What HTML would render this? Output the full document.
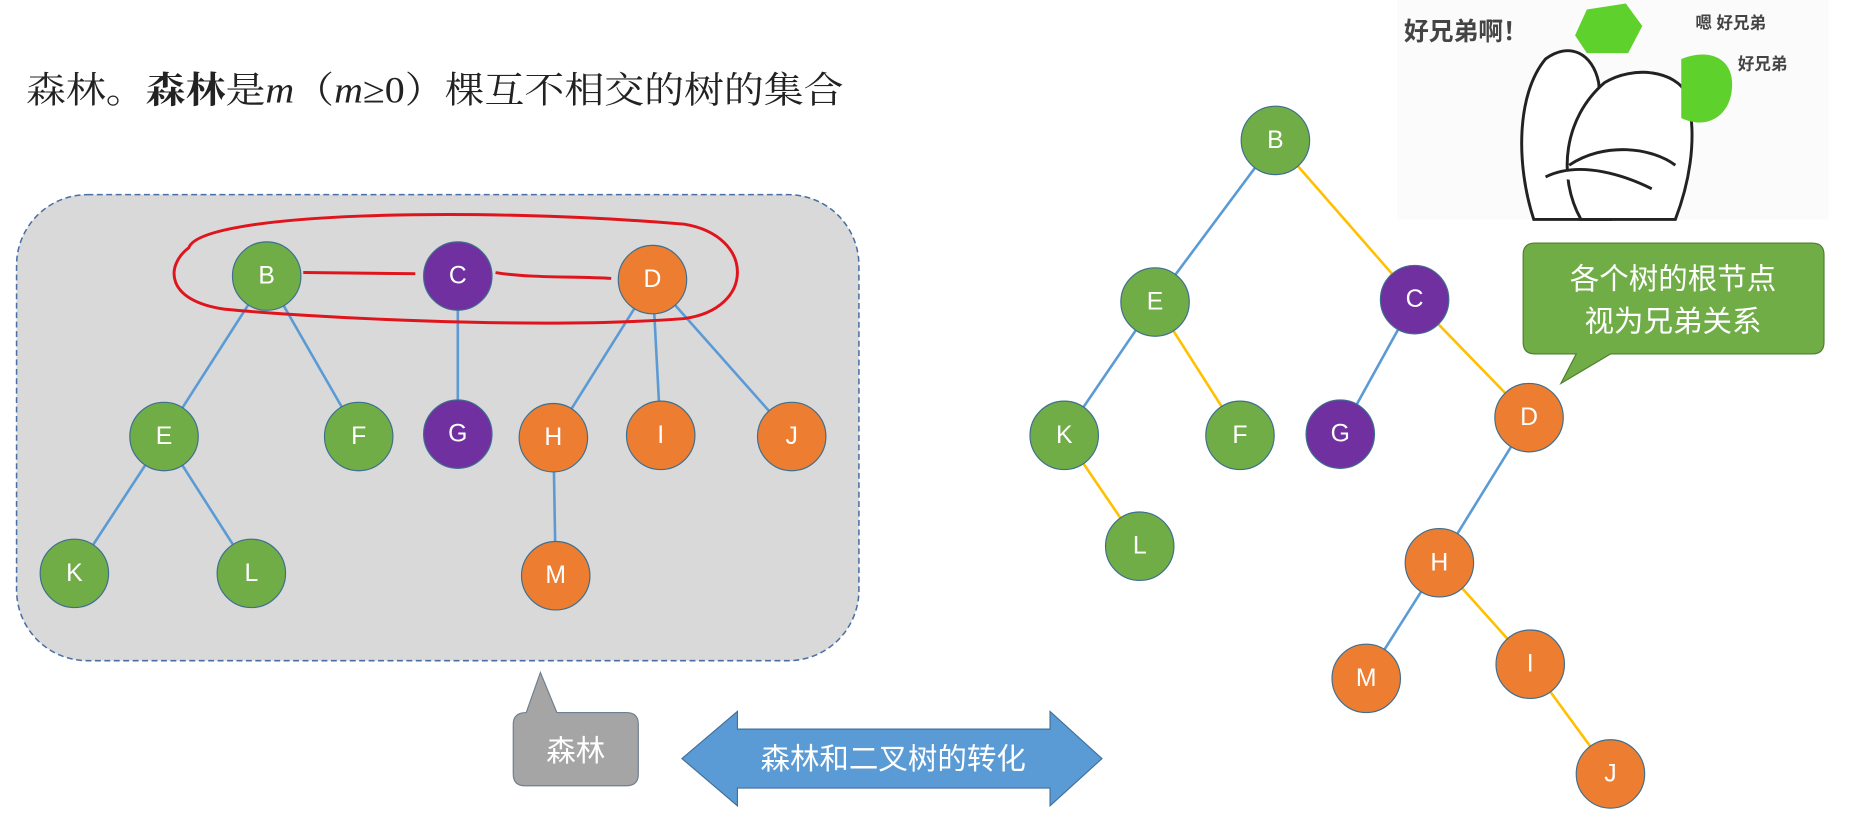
<!DOCTYPE html>
<html><head><meta charset="utf-8"><style>
html,body{margin:0;padding:0;background:#fff;width:1850px;height:817px;overflow:hidden}
svg{display:block}
.n text{font-family:"Liberation Sans",sans-serif;font-size:21px;fill:#fff;text-anchor:middle;dominant-baseline:central}
</style></head><body>
<svg width="1850" height="817" viewBox="0 0 1568 692.5" xmlns="http://www.w3.org/2000/svg">
<text x="22" y="87" font-family="'Liberation Serif','Noto Serif CJK SC',serif" font-size="31" fill="#222" textLength="693" lengthAdjust="spacingAndGlyphs">森林。<tspan font-weight="bold">森林</tspan>是<tspan font-style="italic">m</tspan>（<tspan font-style="italic">m</tspan>≥0）棵互不相交的树的集合</text>

<rect x="14" y="165" width="714" height="395" rx="60" fill="#d9d9d9" stroke="#4a6fa5" stroke-width="1.3" stroke-dasharray="5,3"/>

<g stroke="#5b9bd5" stroke-width="2.2">
<line x1="226" y1="234" x2="139" y2="370"/><line x1="226" y1="234" x2="304" y2="370"/>
<line x1="388" y1="234" x2="388" y2="368"/>
<line x1="553" y1="237" x2="469" y2="371"/><line x1="553" y1="237" x2="560" y2="369"/><line x1="553" y1="237" x2="671" y2="370"/>
<line x1="139" y1="370" x2="63" y2="486"/><line x1="139" y1="370" x2="213" y2="486"/>
<line x1="469" y1="371" x2="471" y2="488"/>
</g>
<path d="M160 210 C 170 180, 400 175, 580 190 C 640 200, 640 262, 580 270 C 450 280, 250 268, 190 262 C 140 255, 140 225, 160 210 Z" fill="none" stroke="#e0141c" stroke-width="2.5"/>
<path d="M257 231 L 352 232 M420 231 C 450 236, 490 234, 518 236" stroke="#e0141c" stroke-width="2.5" fill="none"/>

<g class="n" stroke="#3e6f8f" stroke-width="1">
<circle cx="226" cy="234" r="29" fill="#70ad47"/><circle cx="388" cy="234" r="29" fill="#7030a0"/><circle cx="553" cy="237" r="29" fill="#ed7d31"/>
<circle cx="139" cy="370" r="29" fill="#70ad47"/><circle cx="304" cy="370" r="29" fill="#70ad47"/><circle cx="388" cy="368" r="29" fill="#7030a0"/>
<circle cx="469" cy="371" r="29" fill="#ed7d31"/><circle cx="560" cy="369" r="29" fill="#ed7d31"/><circle cx="671" cy="370" r="29" fill="#ed7d31"/>
<circle cx="63" cy="486" r="29" fill="#70ad47"/><circle cx="213" cy="486" r="29" fill="#70ad47"/><circle cx="471" cy="488" r="29" fill="#ed7d31"/>
</g>
<g class="n">
<text x="226" y="234">B</text><text x="388" y="234">C</text><text x="553" y="237">D</text>
<text x="139" y="370">E</text><text x="304" y="370">F</text><text x="388" y="368">G</text>
<text x="469" y="371">H</text><text x="560" y="369">I</text><text x="671" y="370">J</text>
<text x="63" y="486">K</text><text x="213" y="486">L</text><text x="471" y="488">M</text>
</g>

<path d="M446 604 L458 570 L472 604 L531 604 Q541 604 541 614 L541 656 Q541 666 531 666 L445 666 Q435 666 435 656 L435 614 Q435 604 446 604 Z" fill="#a5a5a5" stroke="#6e7f8f" stroke-width="1"/>
<text x="488" y="645" font-family="'Liberation Sans','Noto Sans CJK SC',sans-serif" font-size="25" fill="#fff" text-anchor="middle">森林</text>

<path d="M578 643 L625 603 L625 618 L890 618 L890 603 L934 643 L890 683 L890 668 L625 668 L625 683 Z" fill="#5b9bd5" stroke="#41719c" stroke-width="1"/>
<text x="757" y="652" font-family="'Liberation Sans','Noto Sans CJK SC',sans-serif" font-size="25" fill="#fff" text-anchor="middle">森林和二叉树的转化</text>

<rect x="1184" y="0" width="366" height="186" fill="#fbfbfb"/>
<g fill="#fff" stroke="#222" stroke-width="2.5">
<path d="M1300 186 C 1285 140, 1285 80, 1310 50 C 1330 35, 1350 45, 1355 70 L 1365 186 Z"/>
<path d="M1340 186 C 1320 150, 1325 100, 1360 70 C 1385 55, 1420 60, 1430 80 C 1440 120, 1430 160, 1420 186 Z"/>
<path d="M1330 140 C 1360 120, 1400 125, 1420 140"/>
<path d="M1310 150 C 1340 135, 1380 150, 1400 160"/>
</g>
<path d="M1335 30 L1345 8 L1378 3 L1392 22 L1380 45 L1345 45 Z" fill="#5fd12d"/>
<path d="M1425 50 C 1450 40, 1470 50, 1468 75 C 1466 100, 1445 110, 1425 100 Z" fill="#5fd12d"/>
<text x="1190" y="34" font-family="'Liberation Sans','Noto Sans CJK SC',sans-serif" font-size="21" font-weight="bold" fill="#444">好兄弟啊！</text>
<text x="1437" y="24" font-family="'Liberation Sans','Noto Sans CJK SC',sans-serif" font-size="14" font-weight="bold" fill="#444">嗯 好兄弟</text>
<text x="1473" y="59" font-family="'Liberation Sans','Noto Sans CJK SC',sans-serif" font-size="14" font-weight="bold" fill="#444">好兄弟</text>

<g stroke-width="2.2">
<line x1="1081" y1="119" x2="979" y2="256" stroke="#5b9bd5"/><line x1="1081" y1="119" x2="1199" y2="254" stroke="#ffc000"/>
<line x1="979" y1="256" x2="902" y2="369" stroke="#5b9bd5"/><line x1="979" y1="256" x2="1051" y2="369" stroke="#ffc000"/>
<line x1="1199" y1="254" x2="1136" y2="368" stroke="#5b9bd5"/><line x1="1199" y1="254" x2="1296" y2="354" stroke="#ffc000"/>
<line x1="902" y1="369" x2="966" y2="463" stroke="#ffc000"/>
<line x1="1296" y1="354" x2="1220" y2="477" stroke="#5b9bd5"/>
<line x1="1220" y1="477" x2="1158" y2="575" stroke="#5b9bd5"/><line x1="1220" y1="477" x2="1297" y2="563" stroke="#ffc000"/>
<line x1="1297" y1="563" x2="1365" y2="656" stroke="#ffc000"/>
</g>
<g class="n" stroke="#3e6f8f" stroke-width="1">
<circle cx="1081" cy="119" r="29" fill="#70ad47"/><circle cx="979" cy="256" r="29" fill="#70ad47"/><circle cx="1199" cy="254" r="29" fill="#7030a0"/>
<circle cx="902" cy="369" r="29" fill="#70ad47"/><circle cx="1051" cy="369" r="29" fill="#70ad47"/><circle cx="1136" cy="368" r="29" fill="#7030a0"/>
<circle cx="1296" cy="354" r="29" fill="#ed7d31"/><circle cx="966" cy="463" r="29" fill="#70ad47"/><circle cx="1220" cy="477" r="29" fill="#ed7d31"/>
<circle cx="1158" cy="575" r="29" fill="#ed7d31"/><circle cx="1297" cy="563" r="29" fill="#ed7d31"/><circle cx="1365" cy="656" r="29" fill="#ed7d31"/>
</g>
<g class="n">
<text x="1081" y="119">B</text><text x="979" y="256">E</text><text x="1199" y="254">C</text>
<text x="902" y="369">K</text><text x="1051" y="369">F</text><text x="1136" y="368">G</text>
<text x="1296" y="354">D</text><text x="966" y="463">L</text><text x="1220" y="477">H</text>
<text x="1158" y="575">M</text><text x="1297" y="563">I</text><text x="1365" y="656">J</text>
</g>

<path d="M1301 206 L1536 206 Q1546 206 1546 216 L1546 290 Q1546 300 1536 300 L1365 300 L1323 325 L1336 300 L1301 300 Q1291 300 1291 290 L1291 216 Q1291 206 1301 206 Z" fill="#70ad47" stroke="#507e32" stroke-width="1"/>
<text x="1418" y="245" font-family="'Liberation Sans','Noto Sans CJK SC',sans-serif" font-size="25" fill="#fff" text-anchor="middle">各个树的根节点</text>
<text x="1418" y="281" font-family="'Liberation Sans','Noto Sans CJK SC',sans-serif" font-size="25" fill="#fff" text-anchor="middle">视为兄弟关系</text>
</svg>
</body></html>
